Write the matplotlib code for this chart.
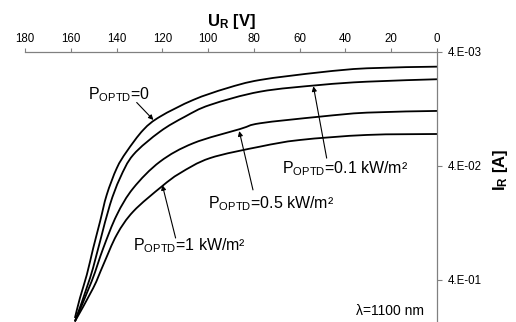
import numpy as np
import matplotlib
matplotlib.use("Agg")
import matplotlib.pyplot as plt
from matplotlib.path import Path
from matplotlib.patches import PathPatch

plt.rcParams['font.family'] = ['Liberation Sans', 'DejaVu Sans']
plt.rcParams['mathtext.fontset'] = 'custom'
plt.rcParams['mathtext.rm'] = 'Liberation Sans'
plt.rcParams['mathtext.it'] = 'Liberation Sans:italic'
plt.rcParams['mathtext.bf'] = 'Liberation Sans:bold'

# reverse voltage [V] and reverse current [A]
v_p0 = [0, 30.6, 51.1, 77.3, 91.9, 106.5, 121.0, 128.3, 135.6, 139.9, 144.3, 147.2, 150.2, 153.0, 156.0, 158.2]
i_p0 = [5.38e-3, 5.56e-3, 6.03e-3, 7.04e-3, 8.33e-3, 1.054e-2, 1.478e-2, 1.93e-2, 3.00e-2, 4.19e-2,
        7.19e-2, 0.123, 0.211, 0.362, 0.579, 0.867]

v_p01 = [0, 30.6, 51.1, 77.3, 99.2, 110.1, 121.0, 132.7, 138.5, 142.9, 147.2, 151.6, 158.2]
i_p01 = [6.94e-3, 7.29e-3, 7.79e-3, 8.92e-3, 1.167e-2, 1.478e-2, 2.0e-2, 3.20e-2, 5.13e-2, 8.79e-2,
         0.184, 0.387, 0.929]

v_p05 = [0, 30.6, 51.1, 77.3, 86.1, 106.5, 121.0, 132.7, 139.9, 145.8, 150.9, 158.2]
i_p05 = [1.317e-2, 1.363e-2, 1.478e-2, 1.69e-2, 1.90e-2, 2.53e-2, 3.67e-2, 6.28e-2, 0.108, 0.211,
         0.414, 0.929]

v_p1 = [0, 30.6, 59.9, 77.3, 99.2, 112.3, 120.3, 132.7, 139.9, 145.8, 150.2, 158.2]
i_p1 = [2.10e-2, 2.14e-2, 2.37e-2, 2.71e-2, 3.42e-2, 4.64e-2, 6.08e-2, 0.1006, 0.161, 0.296, 0.473, 0.929]

x_ticks = [180, 160, 140, 120, 100, 80, 60, 40, 20, 0]
y_ticks = [4e-3, 4e-2, 4e-1]
y_tick_labels = ['4.E-03', '4.E-02', '4.E-01']

labels = [r'P$_{\rm OPTD}$=0', r'P$_{\rm OPTD}$=0.1 kW/m²',
          r'P$_{\rm OPTD}$=0.5 kW/m²', r'P$_{\rm OPTD}$=1 kW/m²']
label_pos = [(152.5, 1.04e-2), (67.9, 4.64e-2), (100.0, 9.40e-2), (132.8, 0.221)]
arrow_tail = [(131.2, 1.11e-2), (48.2, 3.42e-2), (80.4, 6.5e-2), (114.2, 0.172)]
arrow_tip = [(123.9, 1.58e-2), (54.0, 8.0e-3), (86.4, 1.98e-2), (120.0, 5.9e-2)]


def smooth_line(v, i):
    # Excel style smoothed line: Bezier segments through the points (log y)
    pts = np.column_stack([v, np.log10(i)])
    n = len(pts)
    verts = [pts[0]]
    codes = [Path.MOVETO]
    for k in range(n - 1):
        p0 = pts[max(k - 1, 0)]
        p1 = pts[k]
        p2 = pts[k + 1]
        p3 = pts[min(k + 2, n - 1)]
        verts += [p1 + (p2 - p0) / 6, p2 - (p3 - p1) / 6, p2]
        codes += [Path.CURVE4] * 3
    verts = np.array(verts)
    verts[:, 1] = 10 ** verts[:, 1]
    return Path(verts, codes)


fig = plt.figure(figsize=(5.16, 3.22), dpi=100)
ax = fig.add_axes([25 / 516, 0.0, 412 / 516, 1 - 52 / 322])

ax.set_yscale('log')
ax.set_xlim(180, 0)
ax.set_ylim(0.94, 4e-3)

for v, i in [(v_p0, i_p0), (v_p01, i_p01), (v_p05, i_p05), (v_p1, i_p1)]:
    ax.add_patch(PathPatch(smooth_line(v, i), facecolor='none', edgecolor='black', lw=1.3))

ax.xaxis.tick_top()
ax.xaxis.set_label_position('top')
ax.yaxis.tick_right()
ax.set_xticks(x_ticks)
ax.set_yticks(y_ticks)
ax.set_yticklabels(y_tick_labels)
ax.yaxis.set_minor_locator(matplotlib.ticker.NullLocator())

for s in ['left', 'bottom']:
    ax.spines[s].set_visible(False)
for s in ['top', 'right']:
    ax.spines[s].set_color('#808080')
    ax.spines[s].set_linewidth(0.9)

ax.tick_params(axis='x', direction='out', length=3, width=0.8, color='#808080',
               labelsize=8.3, pad=2)
ax.tick_params(axis='y', direction='out', length=3.5, width=0.8, color='#808080',
               labelsize=8.3, pad=4.5)

ax.set_xlabel(r'$\mathbf{U_R}$ [V]', fontsize=12, fontweight='bold', labelpad=5)
fig.text(500 / 516, 1 - 170 / 322, r'$\mathbf{I_R}$ [A]', fontsize=12, fontweight='bold',
         rotation=90, ha='center', va='center')

for txt, pos, tail, tip in zip(labels, label_pos, arrow_tail, arrow_tip):
    ax.text(pos[0], pos[1], txt, fontsize=11.5, ha='left', va='baseline')
    ax.annotate('', xy=tip, xytext=tail,
                arrowprops=dict(arrowstyle='-|>', lw=0.8, color='black',
                                mutation_scale=7, shrinkA=0, shrinkB=0))

ax.text(5.7, 0.811, 'λ=1100 nm', fontsize=10, ha='right', va='baseline')

fig.savefig('out.png', dpi=100)
